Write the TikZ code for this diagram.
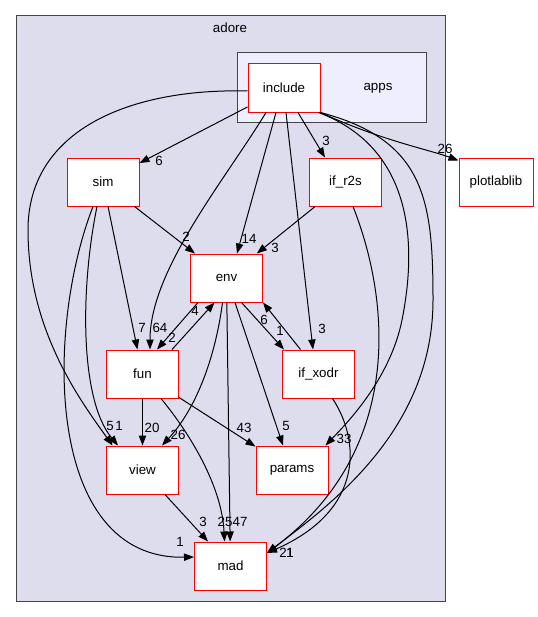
\documentclass[tikz,border=0pt]{standalone}
\usepackage{fontspec}
\setmainfont{Liberation Sans}
\usetikzlibrary{arrows.meta,calc}
\definecolor{clusterbg}{HTML}{DDDDEE}
\definecolor{appsbg}{HTML}{EEEEFF}
\definecolor{clusterline}{HTML}{444444}
\tikzset{
  dir/.style={draw=red, fill=white, line width=0.75pt, minimum width=54pt, minimum height=36pt, inner sep=0pt, font=\fontsize{10}{12}\selectfont},
  dep/.style={line width=0.75pt, -{Triangle[length=7.5pt,width=5.5pt]}},
  num/.style={inner sep=0pt, font=\fontsize{10}{12}\selectfont},
}
\begin{document}
\begin{tikzpicture}[x=0.75pt,y=-0.75pt]
\useasboundingbox (0,0) rectangle (538,617);
\filldraw[fill=clusterbg, draw=clusterline, line width=0.75pt] (16,16) rectangle (445,601);
\node[num] (adore) at (230,28) {adore};
\filldraw[fill=appsbg, draw=clusterline, line width=0.75pt] (237,53) rectangle (426,122);
\node[num] (apps) at (378,88) {apps};
\node[dir] (include) at (284,88) {include};
\node[dir] (sim) at (103,182) {sim};
\node[dir] (if_r2s) at (345.5,182) {if\_r2s};
\node[dir, minimum width=55.5pt] (plotlablib) at (496,182) {plotlablib};
\node[dir] (env) at (226.5,278) {env};
\node[dir] (fun) at (142.5,374) {fun};
\node[dir] (if_xodr) at (318.5,374) {if\_xodr};
\node[dir] (view) at (142.5,470) {view};
\node[dir] (params) at (292,470) {params};
\node[dir] (mad) at (230.5,566) {mad};

\draw[dep] (include) -- (sim);
\node[num] (n-inc-sim) at (159,161) {6};
\draw[dep] ($(include.west)+(0,3)$) .. controls (130,88) and (28,130) .. (28,230)
  .. controls (28,330) and (80,400) .. ($(view.north west)+(6.5,0)$);
\node[num] (n-inc-view) at (110,426) {5};
\draw[dep] ($(include.south)+(-18,0)$) .. controls (225,180) and (150,270) .. ($(fun.north)+(7.5,0)$);
\node[num] (n-inc-fun) at (160,328) {64};
\draw[dep] ($(include.south)+(-8,0)$) -- ($(env.north)+(10.5,0)$);
\node[num] (n-inc-env) at (249,239) {14};
\draw[dep] ($(include.south)+(2,0)$) -- ($(if_xodr.north)+(-5.5,0)$);
\node[num] (n-inc-xodr) at (322,329) {3};
\draw[dep] ($(include.south)+(14,0)$) -- ($(if_r2s.north)+(-20.5,0)$);
\node[num] (n-inc-r2s) at (326,141) {3};
\draw[dep] (include.south east) .. controls (380,140) and (430,150) .. ($(plotlablib.north west)+(0,3)$);
\node[num] (n-inc-plot) at (445,149) {26};
\draw[dep] ($(include.south east)+(-2,0)$) .. controls (405,145) and (420,230) .. (402,320)
  .. controls (390,380) and (345,425) .. ($(params.north east)+(-3,0)$);
\node[num] (n-inc-params) at (344,439) {33};
\draw[dep] (include.south east) .. controls (425,140) and (433,200) .. (433,300)
  .. controls (433,430) and (330,505) .. ($(mad.east)+(0,-13)$);
\node[num] (n-inc-mad) at (283,553) {2};

\draw[dep] ($(sim.south)+(-6,0)$) .. controls (80,290) and (80,400) .. ($(view.north west)+(12,0)$);
\node[num] (n-sim-view) at (119,426) {1};
\draw[dep] ($(sim.south)+(-10,0)$) .. controls (45,330) and (45,560) .. ($(mad.west)+(0,-9)$);
\node[num] (n-sim-mad) at (180,542) {1};
\draw[dep] (sim) -- (fun);
\node[num] (n-sim-fun) at (142,328) {7};
\draw[dep] (sim) -- (env);
\node[num] (n-sim-env) at (186,237) {2};

\draw[dep] (if_r2s) -- (env);
\node[num] (n-r2s-env) at (275,248) {3};
\draw[dep] ($(if_r2s.south)+(7.5,0)$) .. controls (390,300) and (405,450) .. ($(mad.east)+(0,-13)$);
\node[num] (n-r2s-mad) at (290,553) {1};

\draw[dep] ($(if_xodr.south)+(14,0)$) .. controls (360,440) and (365,510) .. ($(mad.east)+(0,-13)$);
\node[num] (n-xodr-mad) at (290,553) {1};
\draw[dep] ($(if_xodr.north)+(-18,0)$) -- (env.south east);
\node[num] (n-xodr-env) at (264,320) {6};
\draw[dep] ($(env.south)+(15,0)$) -- ($(if_xodr.north west)+(2,0)$);
\node[num] (n-env-xodr) at (280,331) {1};

\draw[dep] ($(env.south west)+(8,0)$) -- ($(fun.north)+(14.5,0)$);
\node[num] (n-env-fun) at (172,338) {2};
\draw[dep] ($(fun.north east)+(-7,0)$) -- ($(env.south)+(-12,0)$);
\node[num] (n-fun-env) at (195,311) {4};
\draw[dep] ($(env.south)+(-4,0)$) .. controls (215,360) and (195,410) .. ($(view.north east)+(-17,0)$);
\node[num] (n-env-view) at (178,435) {26};
\draw[dep] (env) -- (mad);
\node[num] (n-env-mad) at (240,522) {47};
\draw[dep] ($(env.south)+(8.5,0)$) -- ($(params.north)+(-9,0)$);
\node[num] (n-env-params) at (286,426) {5};

\draw[dep] ($(fun.south east)+(-18,0)$) .. controls (195,440) and (222,490) .. ($(mad.north)+(-6,0)$);
\node[num] (n-fun-mad) at (225,522) {25};
\draw[dep] (fun) -- (view);
\node[num] (n-fun-view) at (152,428) {20};
\draw[dep] (fun) -- (params);
\node[num] (n-fun-params) at (244,428) {43};
\draw[dep] (view) -- (mad);
\node[num] (n-view-mad) at (203,522) {3};
\end{tikzpicture}
\end{document}
